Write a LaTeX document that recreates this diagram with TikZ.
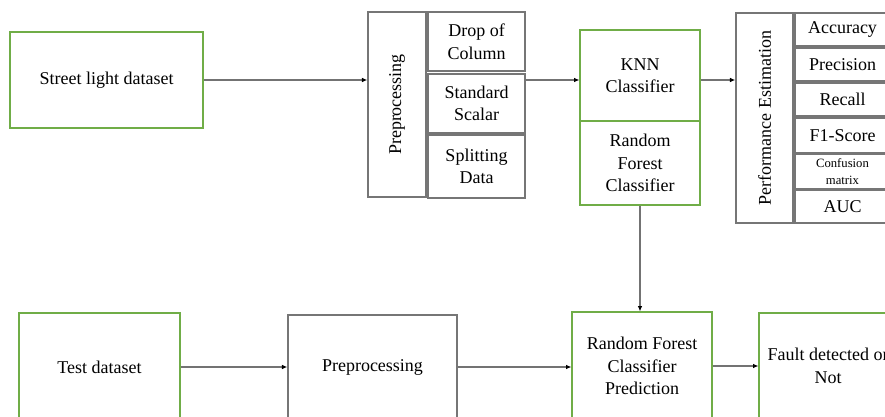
\documentclass[tikz,border=0pt]{standalone}
\usepackage{fontspec}
\setmainfont{Liberation Serif}
\usetikzlibrary{arrows.meta}
\definecolor{boxgreen}{RGB}{112,173,71}
\definecolor{boxgray}{RGB}{118,118,118}
\definecolor{linegray}{RGB}{115,115,115}

\begin{document}
\begin{tikzpicture}[x=0.75pt, y=-0.75pt,
  greenbox/.style={rectangle, draw=boxgreen, line width=0.9pt, align=center, inner sep=0pt, font=\rmfamily\fontsize{13.5}{17}\selectfont},
  graybox/.style={rectangle, draw=boxgray, line width=1.1pt, align=center, inner sep=0pt, font=\rmfamily\fontsize{13.5}{17}\selectfont},
  flow/.style={draw=linegray, line width=0.9pt, -{Latex[black, length=4pt, width=3.5pt]}}]
  \useasboundingbox (0,0) rectangle (885,417);
  \clip (0,0) rectangle (885,417);
  \fill[white] (0,0) rectangle (885,417);

  \node[greenbox, minimum width=144.75pt, minimum height=72pt] (street) at (106.5,80) {Street light dataset};

  \node[graybox, minimum width=43.5pt, minimum height=138.75pt] (pre) at (397,104.5) {};
  \node[rotate=90, font=\rmfamily\fontsize{13.5}{17}\selectfont] (pretext) at (pre.center) {Preprocessing};
  \node[graybox, minimum width=72.75pt, minimum height=44.25pt] (drop) at (476.5,41.5) {Drop of\\Column};
  \node[graybox, minimum width=72.75pt, minimum height=44.25pt] (scalar) at (476.5,103.5) {Standard\\Scalar};
  \node[graybox, minimum width=72.75pt, minimum height=47.25pt] (split) at (476.5,166.5) {Splitting\\Data};

  \node[greenbox, minimum width=90pt, minimum height=68.25pt, text depth=-4pt] (knn) at (640,75.5) {KNN\\Classifier};
  \node[greenbox, minimum width=90pt, minimum height=63pt] (rf) at (640,163) {Random\\Forest\\Classifier};

  \node[graybox, minimum width=42.75pt, minimum height=157.5pt] (perf) at (764.5,118) {};
  \node[rotate=90, font=\rmfamily\fontsize{13.5}{17}\selectfont] (perftext) at (perf.center) {Performance Estimation};
  \node[graybox, minimum width=71.25pt, minimum height=24.75pt] (acc) at (842.5,29.5) {Accuracy};
  \node[graybox, minimum width=71.25pt, minimum height=24.75pt] (prec) at (842.5,64.5) {Precision};
  \node[graybox, minimum width=71.25pt, minimum height=24.75pt] (recall) at (842.5,99.5) {Recall};
  \node[graybox, minimum width=71.25pt, minimum height=26.25pt] (fone) at (842.5,135.5) {F1-Score};
  \node[graybox, minimum width=71.25pt, minimum height=26.25pt, font=\rmfamily\fontsize{9.5}{12.5}\selectfont] (conf) at (842.5,171.5) {Confusion\\matrix};
  \node[graybox, minimum width=71.25pt, minimum height=24.75pt] (auc) at (842.5,206.5) {AUC};

  \node[greenbox, minimum width=120.75pt, minimum height=81pt] (test) at (99.5,367) {Test dataset};
  \node[graybox, minimum width=126.75pt, minimum height=78pt] (prep) at (372.5,367) {Preprocessing};
  \node[greenbox, minimum width=105pt, minimum height=81pt] (rfp) at (642,366) {Random Forest\\Classifier\\Prediction};
  \node[greenbox, minimum width=103.5pt, minimum height=79.5pt] (fault) at (828,366) {Fault detected or\\Not};

  \draw[flow] (street.east) -- (street.east -| pre.west);
  \draw[flow] (scalar.east |- street.east) -- (knn.west |- street.east);
  \draw[flow] (knn.east |- street.east) -- (perf.west |- street.east);
  \draw[flow] (rf.south) -- (rf.south |- rfp.north);
  \draw[flow] (test.east) -- (prep.west);
  \draw[flow] (prep.east) -- (prep.east -| rfp.west);
  \draw[flow] (rfp.east) -- (rfp.east -| fault.west);
\end{tikzpicture}
\end{document}
